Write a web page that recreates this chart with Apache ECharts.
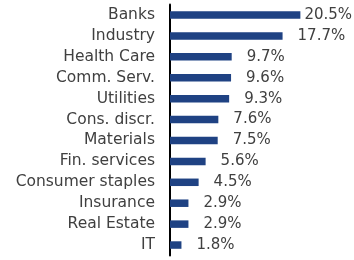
<!DOCTYPE html>
<html><head><meta charset="utf-8">
<script src="https://cdn.jsdelivr.net/npm/echarts@6/dist/echarts.min.js"></script>
<style>html,body{margin:0;padding:0;background:#fff}#c{width:354px;height:260px}</style>
</head><body><div id="c"></div>
<script>
var categories = ["Banks","Industry","Health Care","Comm. Serv.","Utilities","Cons. discr.","Materials","Fin. services","Consumer staples","Insurance","Real Estate","IT"];
var values = [20.5,17.7,9.7,9.6,9.3,7.6,7.5,5.6,4.5,2.9,2.9,1.8];

var chart = echarts.init(document.getElementById('c'), null, {renderer:'canvas'});
var FONT = 'DejaVu Sans';
var data = values.map(function(v,i){
  var d = {value:v};
  if (i === 0) d.label = {distance:4};
  return d;
});
chart.setOption({
  animation:false,
  grid:{left:170,right:25,top:4.5,bottom:4.5,containLabel:false},
  xAxis:{type:'value',min:0,max:25,show:false},
  yAxis:{type:'category',data:categories,inverse:true,
    axisLine:{show:true,lineStyle:{color:'#000',width:2}},
    axisTick:{show:false},
    axisLabel:{margin:15,color:'#404040',fontFamily:FONT,fontSize:15.5}
  },
  series:[{type:'bar',data:data,barWidth:7.5,
    itemStyle:{color:'#1f4283'},
    label:{show:true,position:'right',distance:15,color:'#404040',fontFamily:FONT,fontSize:15,
      formatter:function(p){return p.value.toFixed(1)+'%';}}
  }]
});
</script></body></html>
